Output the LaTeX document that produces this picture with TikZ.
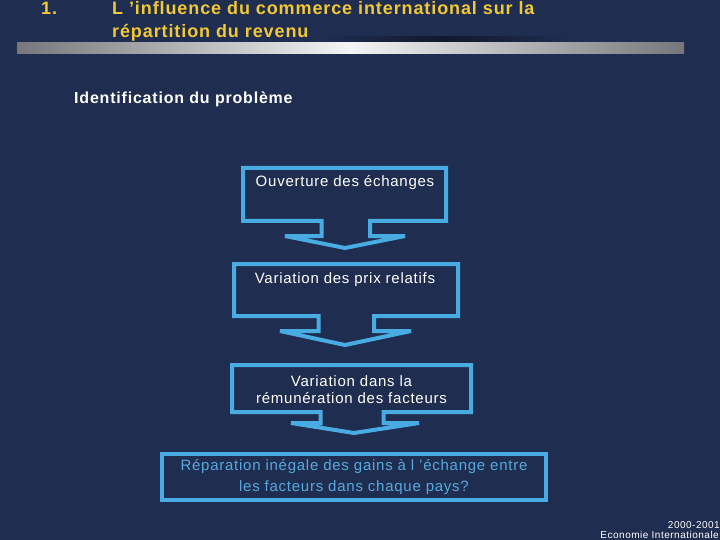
\documentclass[tikz,border=0pt]{standalone}
\usepackage{fontspec}
\setmainfont{Liberation Sans}[LetterSpace=5]
\usetikzlibrary{positioning,calc}
\definecolor{slidebg}{RGB}{31,45,80}
\definecolor{calloutblue}{RGB}{72,172,226}
\definecolor{gainsblue}{RGB}{86,170,222}
\definecolor{titleyellow}{RGB}{242,200,52}
\definecolor{bargray}{RGB}{118,118,124}
\begin{document}
\begin{tikzpicture}[x=1pt,y=-1pt,
    box/.style={inner sep=0pt, outer sep=0pt},
    callout/.style={draw=calloutblue, fill=slidebg, line width=4pt, miter limit=6},
    boxtext/.style={text=white, font=\fontsize{15}{17}\selectfont, inner sep=0pt, align=center},
    titletext/.style={text=titleyellow, font=\fontsize{18}{23}\selectfont\bfseries, inner sep=0pt, align=left}]
    % background
    \fill [slidebg] (0,0) rectangle (720,540);
    \useasboundingbox (0,0) rectangle (720,540);
    % title
    \node [titletext, anchor=base west] (num) at (41,15) {1.};
    \node [titletext, anchor=base west] (title) at (112,38) {L ’influence du commerce international sur la\\répartition du revenu};
    \shade [left color=slidebg, right color=slidebg, middle color=black!45!slidebg] (320,37) rectangle (570,43);
    \shade [left color=bargray, right color=bargray, middle color=white!92!bargray] (17,43) rectangle (684,54);
    % subtitle
    \node [text=white, font=\fontsize{16}{19}\selectfont\bfseries, inner sep=0pt, anchor=base west] (problem) at (74,103.5) {Identification du problème};
    % first box
    \node [box, minimum width=203pt, minimum height=53pt] (open) at (344.5,194.5) {};
    \coordinate (openTip) at (345,248);
    \draw [callout] (open.north west) -- (open.north east) -- (open.south east)
        -- (370,0 |- open.south) -- (370,236) -- (405,236) -- (openTip) -- (285,236)
        -- (321.5,236) -- (321.5,0 |- open.south) -- (open.south west) -- cycle;
    \node [boxtext, anchor=base] (openText) at (345,187) {Ouverture des échanges};
    % second box
    \node [box, minimum width=224pt, minimum height=52pt] (prices) at (346,290) {};
    \coordinate (pricesTip) at (345,345);
    \draw [callout] (prices.north west) -- (prices.north east) -- (prices.south east)
        -- (374,0 |- prices.south) -- (374,331) -- (411,331) -- (pricesTip) -- (280,331)
        -- (318.5,331) -- (318.5,0 |- prices.south) -- (prices.south west) -- cycle;
    \node [boxtext, anchor=base] (pricesText) at (345,283) {Variation des prix relatifs};
    % third box
    \node [box, minimum width=239pt, minimum height=47pt] (wages) at (351.5,388.5) {};
    \coordinate (wagesTip) at (354,433);
    \draw [callout] (wages.north west) -- (wages.north east) -- (wages.south east)
        -- (383.5,0 |- wages.south) -- (383.5,423) -- (419,423) -- (wagesTip) -- (291,423)
        -- (320.5,423) -- (320.5,0 |- wages.south) -- (wages.south west) -- cycle;
    \node [boxtext, anchor=base] (wagesText) at (351.5,403.5) {Variation dans la\\rémunération des facteurs};
    % last box
    \node [box, draw=calloutblue, line width=4pt, minimum width=384pt, minimum height=46pt,
        text=gainsblue, font=\fontsize{15}{20.5}\selectfont, align=center] (gains) at (354,477)
        {Réparation inégale des gains à l ’échange entre\\les facteurs dans chaque pays?};
    % footer
    \node [text=white, font=\fontsize{10}{11}\selectfont, inner sep=0pt, anchor=base east] (year) at (720,528) {2000-2001};
    \node [text=white, font=\fontsize{10}{11}\selectfont, inner sep=0pt, anchor=base east] (course) at (719,538.5) {Economie Internationale};
\end{tikzpicture}
\end{document}
